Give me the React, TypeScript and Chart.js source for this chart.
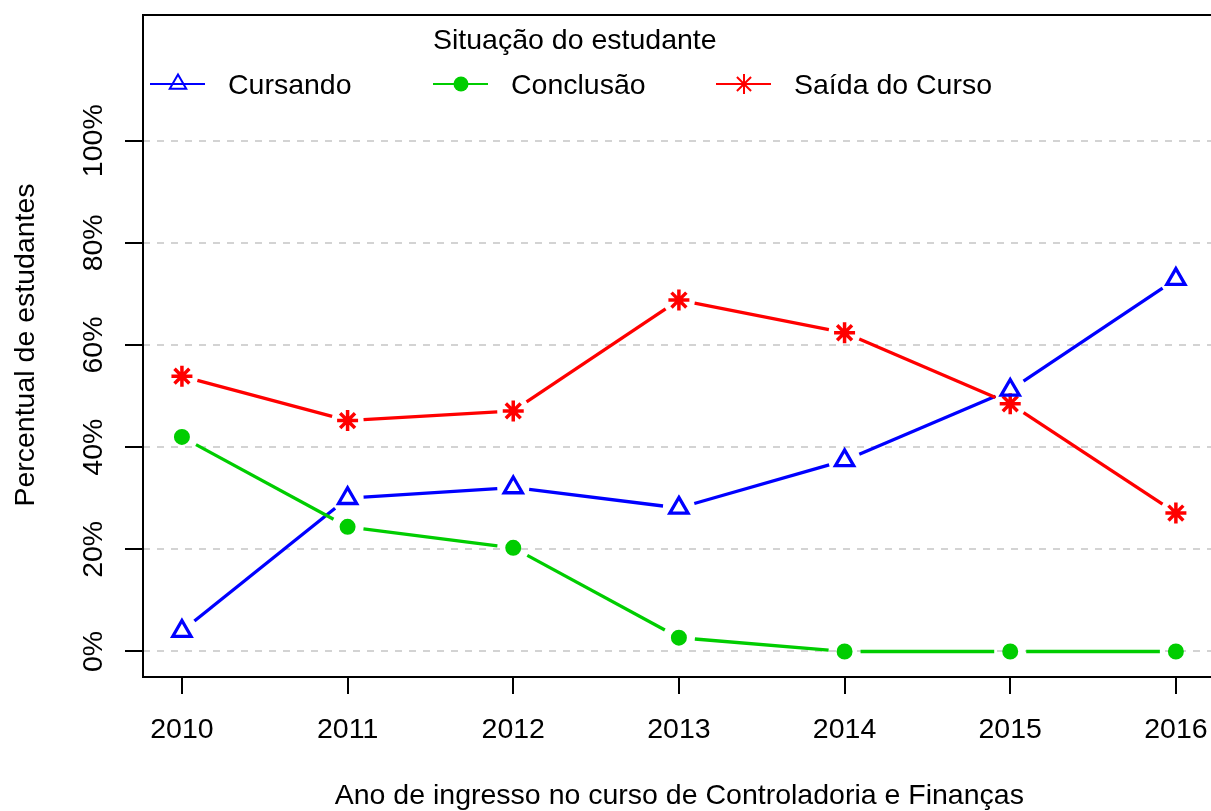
import React, { useEffect, useRef } from 'react';
import { Chart, registerables } from 'chart.js';

Chart.register(...registerables);

// ---- Data ----
const years = [2010, 2011, 2012, 2013, 2014, 2015, 2016];
const cursando = [4.0, 30.0, 32.1, 28.1, 37.4, 51.2, 72.9];
const conclusao = [42.0, 24.4, 20.3, 2.7, 0, 0, 0];
const saidaCurso = [53.9, 45.2, 47.1, 68.8, 62.4, 48.5, 27.1];
const seriesNames = ['Cursando', 'Conclusão', 'Saída do Curso'];
const yTickValues = [0, 20, 40, 60, 80, 100];
const yTickLabels = ['0%', '20%', '40%', '60%', '80%', '100%'];
const xTitle = 'Ano de ingresso no curso de Controladoria e Finanças';
const yTitle = 'Percentual de estudantes';
const legendTitle = 'Situação do estudante';

const BLUE = '#0000ff';
const GREEN = '#00cd00';
const RED = '#ff0000';
const FONT = '28.5px "Liberation Sans", Arial, Helvetica, sans-serif';

function drawMarker(ctx: CanvasRenderingContext2D, style: string, x: number, y: number, color: string, r: number, lw: number) {
  ctx.save();
  ctx.strokeStyle = color;
  ctx.fillStyle = color;
  ctx.lineWidth = lw;
  ctx.beginPath();
  if (style === 'triangle') {
    const h = (r * Math.sqrt(3)) / 2;
    ctx.moveTo(x, y - r);
    ctx.lineTo(x + h, y + r / 2);
    ctx.lineTo(x - h, y + r / 2);
    ctx.closePath();
    ctx.stroke();
  } else if (style === 'circle') {
    ctx.arc(x, y, r, 0, Math.PI * 2);
    ctx.fill();
  } else {
    for (let k = 0; k < 4; k++) {
      const ang = (k * Math.PI) / 4;
      const dx = Math.cos(ang) * r;
      const dy = Math.sin(ang) * r;
      ctx.moveTo(x - dx, y - dy);
      ctx.lineTo(x + dx, y + dy);
    }
    ctx.stroke();
  }
  ctx.restore();
}

const gappedLines = {
  id: 'gappedLines',
  beforeDatasetsDraw(chart: any) {
    const ctx = chart.ctx as CanvasRenderingContext2D;
    const a = chart.chartArea;
    ctx.save();
    ctx.beginPath();
    ctx.rect(a.left, a.top, a.right - a.left, a.bottom - a.top);
    ctx.clip();
    chart.data.datasets.forEach((ds: any, i: number) => {
      const pts = chart.getDatasetMeta(i).data;
      ctx.strokeStyle = ds.borderColor;
      ctx.lineWidth = 3.3;
      ctx.lineCap = 'butt';
      const gap = 16;
      for (let k = 0; k < pts.length - 1; k++) {
        const p = pts[k];
        const q = pts[k + 1];
        const dx = q.x - p.x;
        const dy = q.y - p.y;
        const len = Math.hypot(dx, dy);
        if (len <= 2 * gap) continue;
        const ux = dx / len;
        const uy = dy / len;
        ctx.beginPath();
        ctx.moveTo(p.x + ux * gap, p.y + uy * gap);
        ctx.lineTo(q.x - ux * gap, q.y - uy * gap);
        ctx.stroke();
      }
    });
    ctx.restore();
  },
};

const axesDecor = {
  id: 'axesDecor',
  afterDraw(chart: any) {
    const ctx = chart.ctx as CanvasRenderingContext2D;
    const a = chart.chartArea;
    const xs = chart.scales.x;
    const ys = chart.scales.y;
    ctx.save();
    ctx.strokeStyle = '#000';
    ctx.lineWidth = 2;
    ctx.lineCap = 'butt';
    // box (the right side lies beyond the canvas)
    ctx.beginPath();
    ctx.moveTo(a.right + 6, a.top + 1);
    ctx.lineTo(a.left, a.top + 1);
    ctx.lineTo(a.left, a.bottom + 1);
    ctx.lineTo(a.right + 6, a.bottom + 1);
    ctx.stroke();

    // x ticks
    ctx.beginPath();
    years.forEach((yr) => {
      const px = Math.round(xs.getPixelForValue(yr));
      ctx.moveTo(px, a.bottom + 1);
      ctx.lineTo(px, a.bottom + 18);
    });
    // y ticks
    yTickValues.forEach((v) => {
      const py = Math.round(ys.getPixelForValue(v));
      ctx.moveTo(a.left, py);
      ctx.lineTo(a.left - 18, py);
    });
    ctx.stroke();

    ctx.fillStyle = '#000';
    ctx.font = FONT;
    // x tick labels
    ctx.textAlign = 'center';
    ctx.textBaseline = 'alphabetic';
    years.forEach((yr) => {
      ctx.fillText(String(yr), xs.getPixelForValue(yr), 738);
    });
    // x title
    ctx.fillText(xTitle, (a.left + xs.getPixelForValue(2016.24)) / 2, 804);

    // y tick labels (rotated)
    yTickValues.forEach((v, i) => {
      ctx.save();
      ctx.translate(102, ys.getPixelForValue(v));
      ctx.rotate(-Math.PI / 2);
      ctx.fillText(yTickLabels[i], 0, 0);
      ctx.restore();
    });
    // y title
    ctx.save();
    ctx.translate(34, (a.top + a.bottom) / 2);
    ctx.rotate(-Math.PI / 2);
    ctx.fillText(yTitle, 0, 0);
    ctx.restore();

    // legend
    ctx.textAlign = 'left';
    ctx.fillText(legendTitle, 433, 49);
    const styles = ['triangle', 'circle', 'star'];
    const radii = [9.5, 7.5, 10];
    chart.data.datasets.forEach((ds: any, i: number) => {
      const x0 = 150 + 283 * i;
      ctx.strokeStyle = ds.borderColor;
      ctx.lineWidth = 2;
      ctx.beginPath();
      ctx.moveTo(x0, 84);
      ctx.lineTo(x0 + 55, 84);
      ctx.stroke();
      drawMarker(ctx, styles[i], x0 + 28, 84, ds.borderColor, radii[i], 2);
      ctx.fillStyle = '#000';
      ctx.fillText(ds.label, x0 + 78, 94);
    });
    ctx.restore();
  },
};

function buildConfig(): any {
  const toPoints = (vals: number[]) => years.map((yr, i) => ({ x: yr, y: vals[i] }));
  return {
    type: 'line',
    data: {
      datasets: [
        {
          label: seriesNames[0],
          data: toPoints(cursando),
          borderColor: BLUE,
          backgroundColor: 'rgba(0,0,0,0)',
          showLine: false,
          pointStyle: 'triangle',
          pointRadius: 10.5,
          pointBorderWidth: 3.3,
          pointBorderColor: BLUE,
          pointBackgroundColor: 'rgba(0,0,0,0)',
        },
        {
          label: seriesNames[1],
          data: toPoints(conclusao),
          borderColor: GREEN,
          backgroundColor: GREEN,
          showLine: false,
          pointStyle: 'circle',
          pointRadius: 7,
          pointBorderWidth: 2,
          pointBorderColor: GREEN,
          pointBackgroundColor: GREEN,
        },
        {
          label: seriesNames[2],
          data: toPoints(saidaCurso),
          borderColor: RED,
          backgroundColor: RED,
          showLine: false,
          pointStyle: 'star',
          pointRadius: 10.5,
          pointBorderWidth: 3.5,
          pointBorderColor: RED,
          pointBackgroundColor: RED,
        },
      ],
    },
    options: {
      responsive: false,
      animation: false,
      devicePixelRatio: 1,
      events: [],
      layout: { autoPadding: false, padding: { top: 14, left: 0, right: 0, bottom: 0 } },
      plugins: {
        legend: { display: false },
        tooltip: { enabled: false },
        title: { display: false },
      },
      scales: {
        x: {
          type: 'linear',
          min: 2009.765,
          max: 2016.212,
          ticks: { display: false },
          grid: { display: false },
          border: { display: false },
          afterFit: (s: any) => {
            s.height = 135;
          },
        },
        y: {
          type: 'linear',
          min: -4.8,
          max: 124.8,
          z: 1,
          ticks: { display: false },
          grid: { color: '#d3d3d3', lineWidth: 2, drawTicks: false },
          border: { display: false, dash: [7, 7] },
          afterBuildTicks: (s: any) => {
            s.ticks = yTickValues.map((v) => ({ value: v }));
          },
          afterFit: (s: any) => {
            s.width = 143;
          },
        },
      },
    },
    plugins: [gappedLines, axesDecor],
  };
}

export default function App() {
  const ref = useRef<HTMLCanvasElement>(null);
  useEffect(() => {
    if (!ref.current) return;
    const chart = new Chart(ref.current, buildConfig());
    return () => chart.destroy();
  }, []);
  return (
    <div style={{ position: 'absolute', left: 0, top: 0, width: 1211, height: 811, background: '#fff', overflow: 'hidden' }}>
      <canvas ref={ref} width={1211} height={811} style={{ display: 'block', width: 1211, height: 811 }} />
    </div>
  );
}
